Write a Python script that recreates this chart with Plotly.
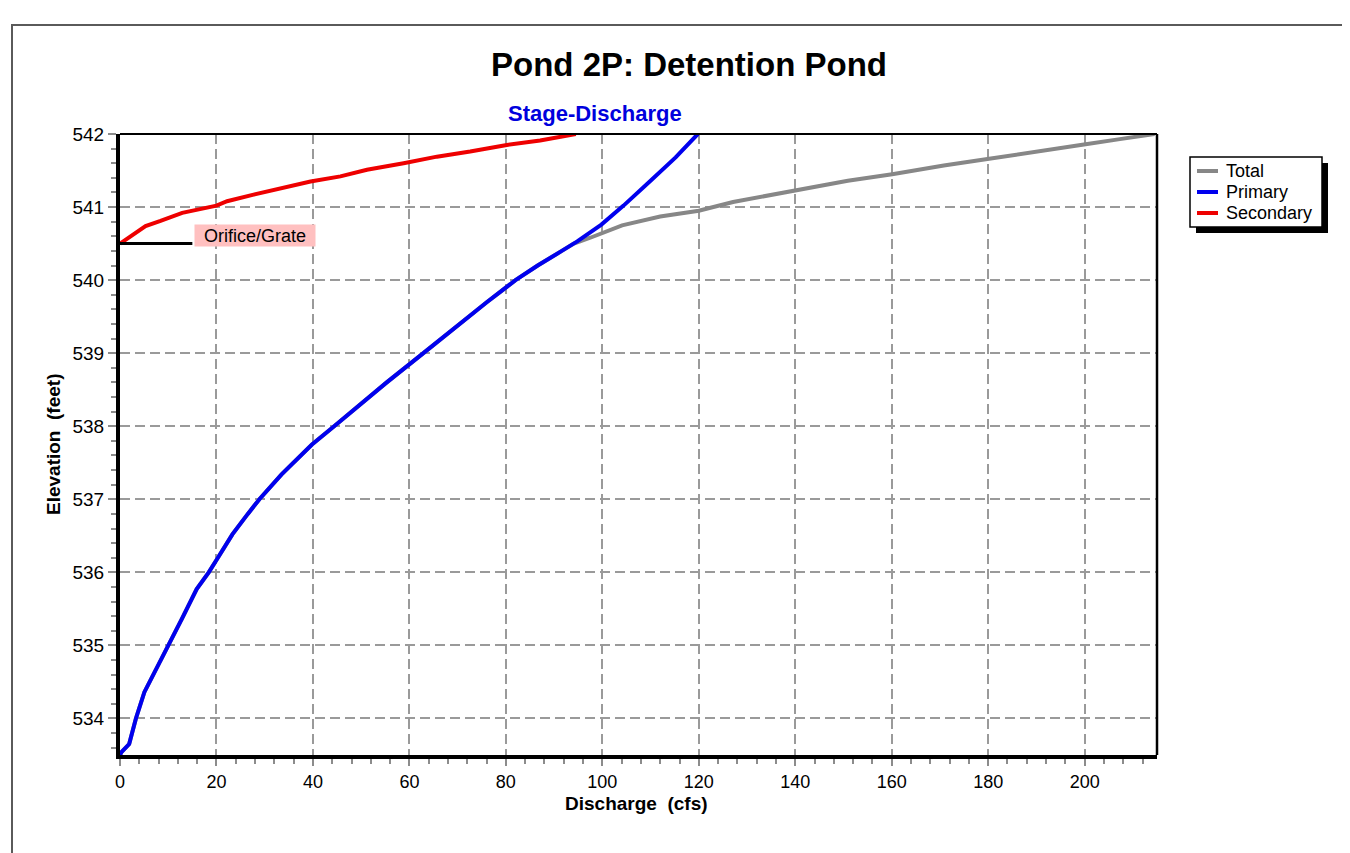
import plotly.graph_objects as go

# ---- data ----
primary_q = [0.0, 0.3, 1.9, 3.3, 5.05, 6.8, 10.0, 12.8, 15.9, 18.4, 20.1, 23.3, 26.5, 28.9,
             33.5, 39.8, 44.4, 50.2, 55.3, 62.9, 70.4, 76.1, 82.0, 86.6, 91.6, 94.8,
             99.8, 104.4, 110.0, 115.2, 119.8]
primary_e = [533.5, 533.54, 533.65, 534.0, 534.36, 534.58, 535.0, 535.36, 535.77, 536.0,
             536.18, 536.52, 536.8, 537.0, 537.34, 537.75, 538.0, 538.32, 538.6, 539.0,
             539.4, 539.7, 540.0, 540.2, 540.4, 540.53, 540.76, 541.02, 541.36, 541.68,
             542.0]

secondary_q = [0.0, 5.3, 8.4, 12.9, 20.0, 22.2, 27.7, 33.3, 39.5, 45.7, 51.2, 58.8, 65.7,
               72.6, 80.2, 87.1, 94.5]
secondary_e = [540.5, 540.74, 540.81, 540.92, 541.02, 541.08, 541.17, 541.26, 541.35,
               541.42, 541.51, 541.60, 541.69, 541.76, 541.85, 541.91, 542.0]

total_q = [0.0, 0.3, 1.9, 3.3, 5.05, 6.8, 10.0, 12.8, 15.9, 18.4, 20.1, 23.3, 26.5, 28.9,
           33.5, 39.8, 44.4, 50.2, 55.3, 62.9, 70.4, 76.1, 82.0, 86.6, 91.6, 94.1, 97.5,
           104.1, 112.0, 120.0, 127.1, 140.2, 150.9, 160.1, 170.8, 180.2, 190.7, 200.2,
           207.3, 214.5]
total_e = [533.5, 533.54, 533.65, 534.0, 534.36, 534.58, 535.0, 535.36, 535.77, 536.0,
           536.18, 536.52, 536.8, 537.0, 537.34, 537.75, 538.0, 538.32, 538.6, 539.0,
           539.4, 539.7, 540.0, 540.2, 540.4, 540.5, 540.58, 540.75, 540.87, 540.95,
           541.07, 541.23, 541.36, 541.45, 541.57, 541.66, 541.77, 541.86, 541.93, 542.0]

series_names = ["Total", "Primary", "Secondary"]
series_colors = ["#878787", "#0000ee", "#ee0000"]

orifice_label = "Orifice/Grate"
orifice_elev = 540.5
orifice_q_end = 15.0

title_text = "Pond 2P: Detention Pond"
subtitle_text = "Stage-Discharge"
x_title = "Discharge  (cfs)"
y_title = "Elevation  (feet)"

FONT = "Liberation Sans, Arial, sans-serif"

fig = go.Figure()
for name, color, q, e in zip(series_names, series_colors,
                             [total_q, primary_q, secondary_q],
                             [total_e, primary_e, secondary_e]):
    fig.add_trace(go.Scatter(x=q, y=e, mode="lines", name=name,
                             line=dict(color=color, width=4)))

# page has an 8px body margin; positions below are given in screenshot pixels
OFF = 8
L, R, T, B = 120 - OFF, 201, 134 - OFF, 106
W, H = 1350, 853
PW, PH = W - L - R, H - T - B


def px(xp):
    return (xp - OFF - L) / PW


def py(yp):
    return (H - B - (yp - OFF)) / PH


fig.update_layout(
    width=W, height=H,
    margin=dict(l=L, r=R, t=T, b=B),
    paper_bgcolor="white", plot_bgcolor="white",
    font=dict(family=FONT, color="black", size=19),
    showlegend=False,
)

fig.update_xaxes(
    range=[0, 215], tickmode="linear", tick0=0, dtick=20,
    showline=True, linecolor="black", linewidth=4, mirror=False,
    ticks="outside", ticklen=7, tickwidth=2, tickcolor="#8c8c8c",
    showgrid=True, gridcolor="#9a9a9a", gridwidth=1.5, griddash="10px,5px",
    zeroline=False, tickfont=dict(size=18),
    minor=dict(ticks="outside", ticklen=5, tickwidth=2, tickcolor="#8c8c8c",
               tick0=0, dtick=4, showgrid=False),
)
fig.update_yaxes(
    range=[533.5, 542], tickmode="linear", tick0=534, dtick=1,
    showline=True, linecolor="black", linewidth=4, mirror=False,
    ticks="outside", ticklen=8, tickwidth=2, tickcolor="#8c8c8c",
    showgrid=True, gridcolor="#9a9a9a", gridwidth=1.5, griddash="10px,5px",
    zeroline=False, tickfont=dict(size=19),
    minor=dict(ticks="outside", ticklen=5, tickwidth=2, tickcolor="#8c8c8c",
               tick0=534, dtick=0.2, showgrid=False),
)

shapes = [
    # outer frame
    dict(type="rect", xref="paper", yref="paper", x0=px(12), y0=-0.5, x1=1.6, y1=py(25),
         line=dict(color="#5a5a5a", width=2), fillcolor="rgba(0,0,0,0)", layer="below"),
    # top & right border of plot
    dict(type="line", xref="paper", yref="paper", x0=0, x1=1, y0=1, y1=1,
         line=dict(color="black", width=2), layer="above"),
    dict(type="line", xref="paper", yref="paper", x0=1, x1=1, y0=0, y1=1,
         line=dict(color="black", width=2.5), layer="above"),
    # orifice marker line
    dict(type="line", xref="x", yref="y", x0=0, x1=orifice_q_end, y0=orifice_elev,
         y1=orifice_elev, line=dict(color="black", width=3), layer="above"),
    # legend shadow and box
    dict(type="rect", xref="paper", yref="paper", x0=px(1196), x1=px(1328),
         y0=py(233), y1=py(163), fillcolor="black", line=dict(width=0), layer="above"),
    dict(type="rect", xref="paper", yref="paper", x0=px(1190), x1=px(1322),
         y0=py(227), y1=py(157), fillcolor="white", line=dict(color="black", width=1.5),
         layer="above"),
]

annotations = [
    dict(text="<b>" + title_text + "</b>", xref="paper", yref="paper", x=px(689), y=py(65),
         showarrow=False, font=dict(size=33, family=FONT, color="black"),
         xanchor="center", yanchor="middle"),
    dict(text="<b>" + subtitle_text + "</b>", xref="paper", yref="paper", x=px(595), y=py(113),
         showarrow=False, font=dict(size=22, family=FONT, color="#0000dd"),
         xanchor="center", yanchor="middle"),
    dict(text="<b>" + x_title + "</b>", xref="paper", yref="paper", x=px(636), y=py(804),
         showarrow=False, font=dict(size=19, family=FONT, color="black"),
         xanchor="center", yanchor="middle"),
    dict(text="<b>" + y_title + "</b>", xref="paper", yref="paper", x=px(53), y=py(445),
         showarrow=False, font=dict(size=19, family=FONT, color="black"), textangle=-90,
         xanchor="center", yanchor="middle"),
    dict(text=orifice_label, xref="x", yref="y", x=orifice_q_end + 0.4, y=orifice_elev + 0.11,
         showarrow=False, font=dict(size=18, family=FONT, color="black"),
         xanchor="left", yanchor="middle", bgcolor="#ffc0c0", borderpad=0,
         width=120, height=21, align="center"),
]

# custom legend rows
row_y = [171, 192, 213]
for name, color, yy in zip(series_names, series_colors, row_y):
    shapes.append(dict(type="line", xref="paper", yref="paper", x0=px(1197), x1=px(1218),
                       y0=py(yy), y1=py(yy), line=dict(color=color, width=4),
                       layer="above"))
    annotations.append(dict(text=name, xref="paper", yref="paper", x=px(1224), y=py(yy),
                            showarrow=False, font=dict(size=18, family=FONT, color="black"),
                            xanchor="left", yanchor="middle"))

fig.update_layout(shapes=shapes, annotations=annotations)

fig.write_html("out.html")
